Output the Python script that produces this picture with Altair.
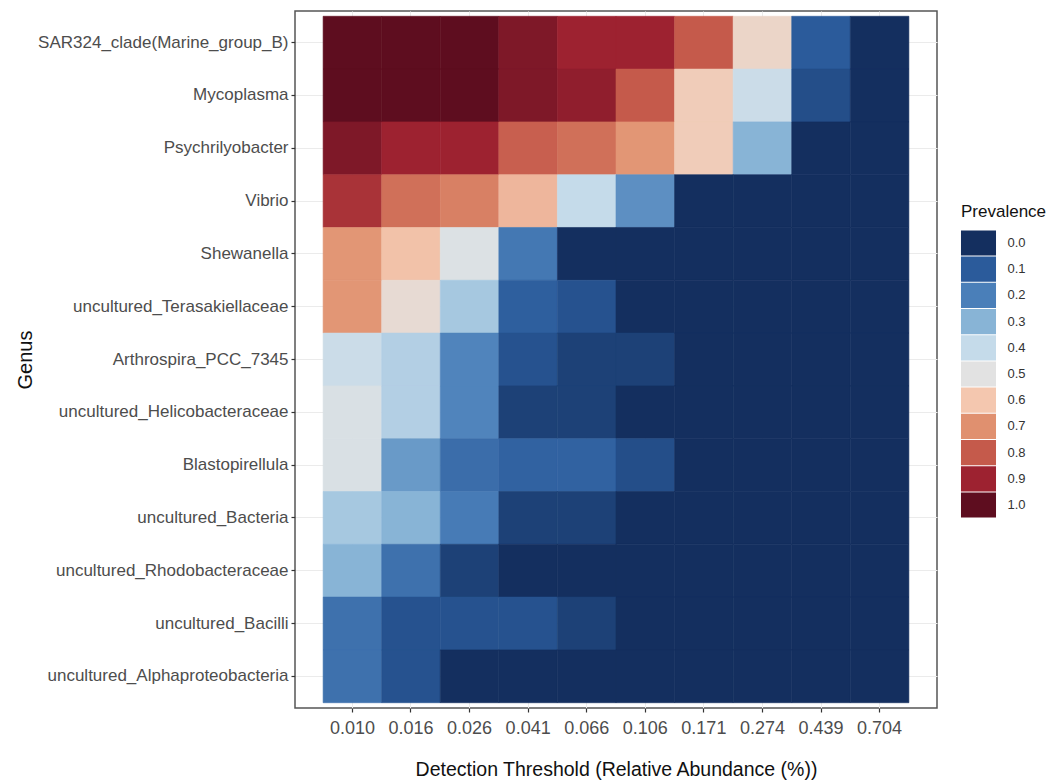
import altair as alt
import pandas as pd

genera = [
    "SAR324_clade(Marine_group_B)", "Mycoplasma", "Psychrilyobacter", "Vibrio",
    "Shewanella", "uncultured_Terasakiellaceae", "Arthrospira_PCC_7345",
    "uncultured_Helicobacteraceae", "Blastopirellula", "uncultured_Bacteria",
    "uncultured_Rhodobacteraceae", "uncultured_Bacilli", "uncultured_Alphaproteobacteria",
]
thresholds = ["0.010", "0.016", "0.026", "0.041", "0.066", "0.106", "0.171", "0.274", "0.439", "0.704"]

prev_sar324 = [1.00, 1.00, 1.00, 0.95, 0.90, 0.90, 0.80, 0.55, 0.10, 0.00]
prev_mycoplasma = [1.00, 1.00, 1.00, 0.95, 0.92, 0.80, 0.58, 0.42, 0.07, 0.00]
prev_psychrilyobacter = [0.95, 0.90, 0.90, 0.79, 0.76, 0.69, 0.58, 0.30, 0.00, 0.00]
prev_vibrio = [0.87, 0.76, 0.73, 0.63, 0.40, 0.23, 0.00, 0.00, 0.00, 0.00]
prev_shewanella = [0.69, 0.61, 0.48, 0.18, 0.00, 0.00, 0.00, 0.00, 0.00, 0.00]
prev_terasakiellaceae = [0.69, 0.53, 0.35, 0.11, 0.08, 0.00, 0.00, 0.00, 0.00, 0.00]
prev_arthrospira = [0.42, 0.37, 0.21, 0.08, 0.04, 0.04, 0.00, 0.00, 0.00, 0.00]
prev_helicobacteraceae = [0.47, 0.37, 0.21, 0.04, 0.04, 0.00, 0.00, 0.00, 0.00, 0.00]
prev_blastopirellula = [0.47, 0.25, 0.15, 0.12, 0.12, 0.07, 0.00, 0.00, 0.00, 0.00]
prev_bacteria = [0.35, 0.30, 0.19, 0.04, 0.04, 0.00, 0.00, 0.00, 0.00, 0.00]
prev_rhodobacteraceae = [0.30, 0.16, 0.04, 0.00, 0.00, 0.00, 0.00, 0.00, 0.00, 0.00]
prev_bacilli = [0.16, 0.08, 0.08, 0.08, 0.04, 0.00, 0.00, 0.00, 0.00, 0.00]
prev_alphaproteobacteria = [0.16, 0.08, 0.00, 0.00, 0.00, 0.00, 0.00, 0.00, 0.00, 0.00]

rows = [
    prev_sar324, prev_mycoplasma, prev_psychrilyobacter, prev_vibrio, prev_shewanella,
    prev_terasakiellaceae, prev_arthrospira, prev_helicobacteraceae, prev_blastopirellula,
    prev_bacteria, prev_rhodobacteraceae, prev_bacilli, prev_alphaproteobacteria,
]

legend_values = [0.0, 0.1, 0.2, 0.3, 0.4, 0.5, 0.6, 0.7, 0.8, 0.9, 1.0]
palette = ["#142f5f", "#2b5b9b", "#4a7fb9", "#88b4d6", "#c5dbea", "#e2e2e2",
           "#f4c7af", "#e0906f", "#c55a4b", "#9d2230", "#5e0d1f"]

records = []
for g, vals in zip(genera, rows):
    for t, v in zip(thresholds, vals):
        records.append({"Genus": g, "Threshold": t, "Prevalence": v})
df = pd.DataFrame(records)

SANS = "Liberation Sans, Arial, sans-serif"

chart = alt.Chart(df).mark_rect(strokeWidth=0.6).encode(
    x=alt.X(
        "Threshold:N", sort=thresholds,
        title="Detection Threshold (Relative Abundance (%))",
        scale=alt.Scale(paddingInner=0, paddingOuter=0.48),
        axis=alt.Axis(
            labelAngle=0, bandPosition=0.5, domain=False, grid=True, zindex=0,
            gridColor="#ebebeb", gridWidth=1,
            ticks=True, tickSize=4, tickColor="#333333", tickWidth=1.2,
            labelFont=SANS, labelFontSize=18, labelColor="#4d4d4d", labelPadding=7,
            titleFont=SANS, titleFontSize=19.5, titleFontWeight="normal",
            titleColor="#111111", titlePadding=23,
        ),
    ),
    y=alt.Y(
        "Genus:N", sort=genera, title="Genus",
        scale=alt.Scale(paddingInner=0, paddingOuter=0.1),
        axis=alt.Axis(
            bandPosition=0.5, domain=False, grid=True, zindex=0,
            gridColor="#ebebeb", gridWidth=1,
            ticks=True, tickSize=4, tickColor="#333333", tickWidth=1.2,
            labelFont=SANS, labelFontSize=17, labelColor="#4d4d4d", labelPadding=3,
            labelLimit=400,
            titleFont=SANS, titleFontSize=20, titleFontWeight="normal",
            titleColor="#111111", titleX=-270, titleBaseline="middle",
        ),
    ),
    color=alt.Color(
        "Prevalence:Q",
        scale=alt.Scale(domain=legend_values, range=palette, interpolate="rgb"),
        legend=alt.Legend(
            type="symbol", values=legend_values, format=".1f", direction="vertical",
            orient="none", legendX=666, legendY=193,
            title="Prevalence", titleFont=SANS, titleFontSize=17,
            titleFontWeight="normal", titleColor="#111111", titlePadding=9,
            labelFont=SANS, labelFontSize=13, labelColor="#333333", labelOffset=16,
            symbolType="M-1.39,-1H1.39V1H-1.39Z", symbolSize=635, symbolOffset=4.5,
            symbolStrokeWidth=0, symbolOpacity=1, rowPadding=0.2,
        ),
    ),
    stroke=alt.Stroke(
        "Prevalence:Q",
        scale=alt.Scale(domain=legend_values, range=palette, interpolate="rgb"),
        legend=None,
    ),
).properties(
    width=642, height=697,
    autosize=alt.AutoSizeParams(type="none"),
    padding={"left": 287, "top": 3, "right": 111, "bottom": 80},
    background="white",
).configure_view(
    stroke="#555555", strokeWidth=1.5
)

chart.save("out.html", embed_options={"renderer": "svg", "actions": False})
